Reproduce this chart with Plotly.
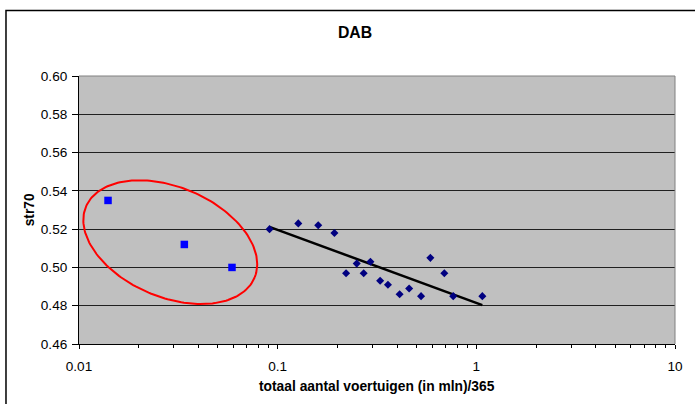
import numpy as np
import plotly.graph_objects as go

# ---- data ----
outlier_x = [0.0140, 0.0339, 0.0589]
outlier_y = [0.535, 0.512, 0.500]

main_x = [0.091, 0.127, 0.160, 0.193, 0.221, 0.250, 0.271, 0.293, 0.328,
          0.359, 0.411, 0.459, 0.527, 0.587, 0.690, 0.765, 1.072]
main_y = [0.520, 0.523, 0.522, 0.518, 0.497, 0.502, 0.497, 0.503, 0.493,
          0.491, 0.486, 0.489, 0.485, 0.505, 0.497, 0.485, 0.485]

trend_x = [0.0909, 1.072]
trend_y = [0.5212, 0.4803]

x_ticks = [0.01, 0.1, 1, 10]
x_ticktext = ["0.01", "0.1", "1", "10"]
x_minor = [m * d for d in (0.01, 0.1, 1) for m in range(2, 10)]

title_text = "DAB"
x_title = "totaal aantal voertuigen (in mln)/365"
y_title = "str70"

# ---- layout geometry ----
W, H = 695, 404
ML, MR, MT, MB = 79, 16, 76, 60
PW, PH = W - ML - MR, H - MT - MB
x_range = [-2, 1]
y_range = [0.46, 0.60]

# ellipse highlighting the outliers (centre in data units, radii in px)
ell_cx, ell_cy = 0.0288, 0.5132
ell_a, ell_b, ell_rot = 92, 55, 22.6
t = np.linspace(0, 2 * np.pi, 200)
th = np.radians(ell_rot)
dx_px = ell_a * np.cos(t) * np.cos(th) - ell_b * np.sin(t) * np.sin(th)
dy_px = ell_a * np.cos(t) * np.sin(th) + ell_b * np.sin(t) * np.cos(th)
dec_per_px = (x_range[1] - x_range[0]) / PW
y_per_px = (y_range[1] - y_range[0]) / PH
ell_x = 10 ** (np.log10(ell_cx) + dx_px * dec_per_px)
ell_y = ell_cy - dy_px * y_per_px

FONT = "Liberation Sans, Arial, sans-serif"
TICK_FONT = dict(family=FONT, size=13.6, color="black")

fig = go.Figure()
fig.add_trace(go.Scatter(x=ell_x, y=ell_y, mode="lines",
                         line=dict(color="#FF0000", width=2),
                         hoverinfo="skip", showlegend=False))
fig.add_trace(go.Scatter(x=trend_x, y=trend_y, mode="lines",
                         line=dict(color="black", width=2.5),
                         showlegend=False))
fig.add_trace(go.Scatter(x=main_x, y=main_y, mode="markers",
                         marker=dict(symbol="diamond", size=6.2, color="#000080",
                                     line=dict(width=0)),
                         showlegend=False))
fig.add_trace(go.Scatter(x=outlier_x, y=outlier_y, mode="markers",
                         marker=dict(symbol="square", size=7.5, color="#0000FF",
                                     line=dict(width=0)),
                         showlegend=False))

fig.update_layout(
    width=W, height=H,
    margin=dict(l=ML, r=MR, t=MT, b=MB),
    paper_bgcolor="white",
    plot_bgcolor="#C0C0C0",
    font=dict(family=FONT, size=13.6, color="black"),
    title=dict(text="<b>" + title_text + "</b>", x=355 / W, xref="container",
               y=1 - 32.5 / H, yref="container", xanchor="center", yanchor="middle",
               font=dict(size=15.8, family=FONT, color="black")),
    xaxis=dict(type="log", range=x_range, tickmode="array", tickvals=x_ticks,
               ticktext=x_ticktext, ticks="outside", ticklen=4, tickcolor="black",
               tickfont=TICK_FONT, ticklabelstandoff=6,
               showline=True, linecolor="black", linewidth=1, showgrid=False,
               zeroline=False,
               minor=dict(tickmode="array", tickvals=x_minor, ticks="outside",
                          ticklen=3, tickcolor="black", showgrid=False)),
    yaxis=dict(range=y_range, dtick=0.02, tick0=0.46, tickformat=".2f",
               ticks="outside", ticklen=6, tickcolor="black",
               tickfont=TICK_FONT, ticklabelstandoff=2,
               showline=True, linecolor="black", linewidth=1,
               showgrid=True, gridcolor="#202020", gridwidth=1, zeroline=False),
    annotations=[
        dict(text="<b>" + x_title + "</b>", xref="paper", yref="paper",
             x=0.5, y=(344 - 386) / PH, xanchor="center", yanchor="middle",
             showarrow=False, font=dict(size=13.8, family=FONT)),
        dict(text="<b>" + y_title + "</b>", xref="paper", yref="paper",
             x=(29 - ML) / PW, y=0.5, xanchor="center", yanchor="middle",
             textangle=-90, showarrow=False, font=dict(size=13.8, family=FONT)),
    ],
    shapes=[
        # plot area border (top, right)
        dict(type="line", xref="paper", yref="paper", x0=0, x1=1, y0=1, y1=1,
             line=dict(color="#808080", width=1)),
        dict(type="line", xref="paper", yref="paper", x0=1, x1=1, y0=0, y1=1,
             line=dict(color="#808080", width=1)),
        # chart area border
        dict(type="rect", xref="paper", yref="paper",
             x0=(5.5 - ML) / PW, x1=(W + 10 - ML) / PW,
             y0=-0.5, y1=(H - MB - 10.5) / PH,
             line=dict(color="black", width=1.5), fillcolor="rgba(0,0,0,0)"),
    ],
)

fig.write_html("out.html")
